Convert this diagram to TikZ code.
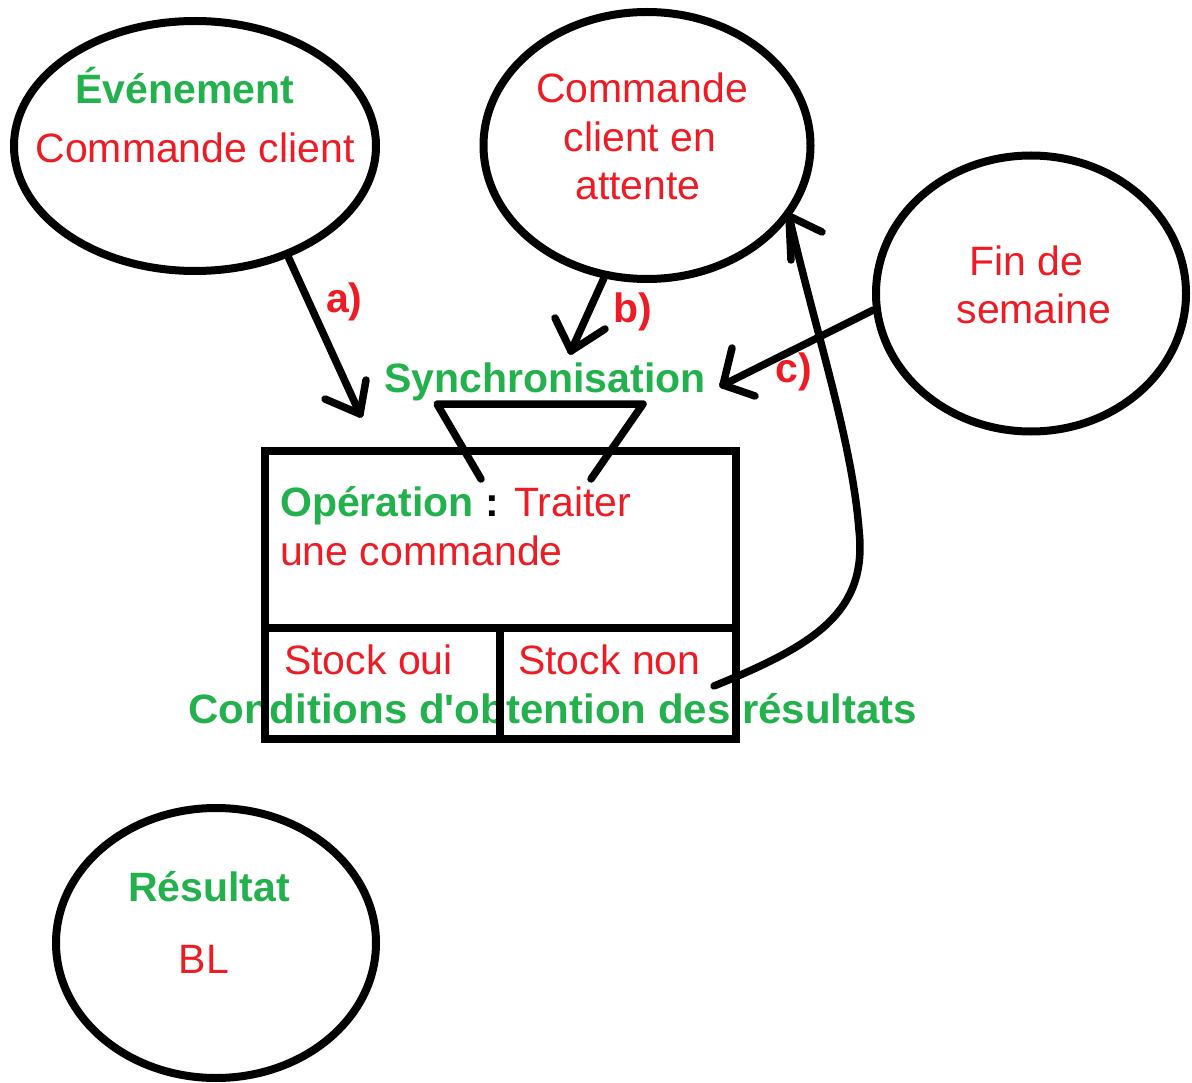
\documentclass[tikz,border=0pt]{standalone}
\usepackage{fontspec}
\setmainfont{Liberation Sans}[Ligatures=TeXOff]
\usetikzlibrary{shapes.geometric}
\definecolor{pgreen}{HTML}{22B14C}
\definecolor{pred}{HTML}{ED1C24}
\begin{document}
\begin{tikzpicture}[x=1pt,y=-1pt,
  ln/.style={line width=7.5pt, line cap=round, line join=round},
  bubble/.style={draw, ellipse, line width=8pt, inner sep=0pt},
  rtxt/.style={text=pred, font=\fontsize{41}{48}\selectfont, inner sep=0pt, anchor=base},
  gtxt/.style={text=pgreen, font=\bfseries\fontsize{41}{48}\selectfont, inner sep=0pt, anchor=base},
  lbl/.style={text=pred, font=\bfseries\fontsize{41}{48}\selectfont, inner sep=0pt, anchor=base west}]
\useasboundingbox (0,0) rectangle (1192,1083);

% bubbles
\node[bubble, minimum width=362pt, minimum height=250pt] (e1) at (195,146) {};
\node[bubble, minimum width=327pt, minimum height=267pt] (e2) at (647,145.5) {};
\node[bubble, minimum width=310pt, minimum height=276pt] (e3) at (1031,293.5) {};
\node[bubble, minimum width=320pt, minimum height=270pt] (e4) at (216,943) {};

% bubble texts
\node[gtxt] (t1a) at (185,104) {Événement};
\node[rtxt] (t1b) at (195,163) {Commande client};
\node[rtxt] (t2a) at (642,103) {Commande};
\node[rtxt] (t2b) at (640,152) {client en};
\node[rtxt] (t2c) at (638,200) {attente};
\node[rtxt] (t3a) at (1026,276) {Fin de};
\node[rtxt] (t3b) at (1034,324) {semaine};
\node[gtxt] (t4a) at (209,901) {Résultat};
\node[rtxt] (t4b) at (204,973) {BL};

% synchronisation
\node[gtxt] (sync) at (545,392) {Synchronisation};

% operation box texts
\node[gtxt, anchor=base west] (op1) at (280,516) {Opération \textcolor{black}{:} \mdseries\textcolor{pred}{Traiter}};
\node[rtxt, anchor=base west] (op2) at (280,565) {une commande};
\node[rtxt, anchor=base west] (so) at (284,674) {Stock oui};
\node[rtxt, anchor=base west] (sn) at (518,674) {Stock non};
\node[gtxt, anchor=base west, xscale=1.025, transform shape] (cond) at (188,723) {Conditions d'obtention des résultats};

% operation box
\node[draw, line width=8pt, minimum width=471pt, minimum height=288pt, inner sep=0pt] (op) at (500.5,595) {};
\coordinate (dl) at (265,628);
\coordinate (dr) at (736,628);
\coordinate (vt) at (500,628);
\coordinate (vb) at (500,739);
\draw[line width=8pt] (dl) -- (dr);
\draw[line width=8pt] (vt) -- (vb);

% synchronisation funnel
\coordinate (f1) at (437,404);
\coordinate (f2) at (643,404);
\coordinate (f3) at (481,479);
\coordinate (f4) at (591,479);
\draw[ln] (f3) -- (f1) -- (f2) -- (f4);

% arrow a
\coordinate (atip) at (360,414);
\draw[ln] (e1.-50) -- (atip);
\draw[ln] (atip) -- (325,399);
\draw[ln] (atip) -- (366,380);
\node[lbl] (la) at (326,313) {a)};

% arrow b
\coordinate (btip) at (571,351);
\draw[ln] (e2.-108) -- (btip);
\draw[ln] (btip) -- (555,318);
\draw[ln] (btip) -- (605,329);
\node[lbl] (lb) at (613,323) {b)};

% arrow c
\coordinate (ctip) at (723,385);
\draw[ln] (e3.-174) -- (ctip);
\draw[ln] (ctip) -- (732,348);
\draw[ln] (ctip) -- (755,396);
\node[lbl] (lc) at (775,383) {c)};

% feedback arrow from Stock non to e2
\coordinate (fstart) at (714,686);
\coordinate (ftip) at (789,216);
\draw[ln] (fstart) .. controls (815,645) and (868,612) .. (859,530)
  .. controls (852,440) and (815,330) .. (ftip);
\draw[ln] (ftip) -- (791,260);
\draw[ln] (ftip) -- (822,232);
\end{tikzpicture}
\end{document}
